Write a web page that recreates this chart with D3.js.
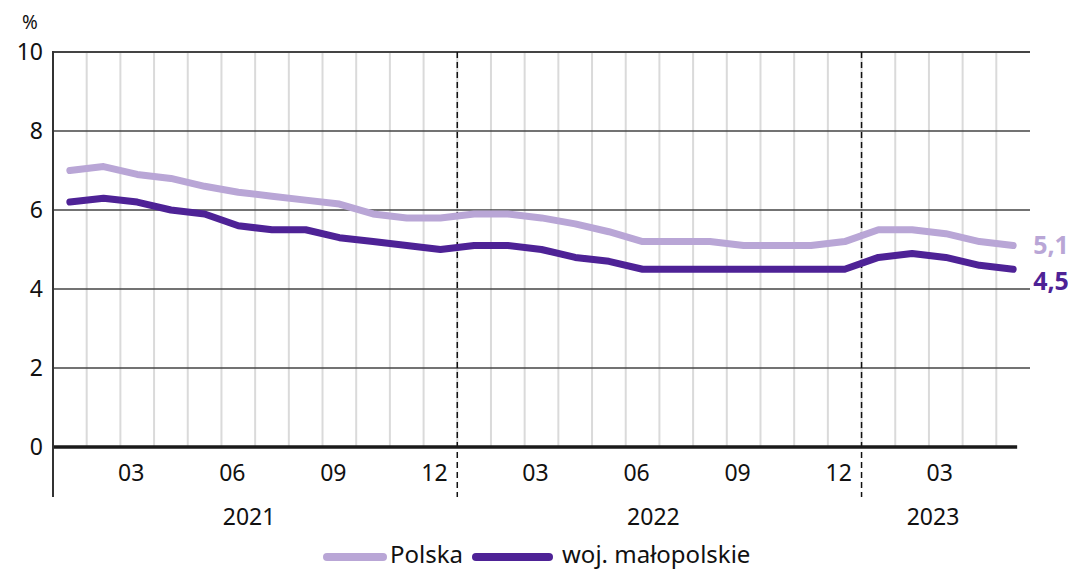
<!DOCTYPE html>
<html>
<head>
<meta charset="utf-8">
<script src="https://cdn.jsdelivr.net/npm/d3@7"></script>
<style>
  body { margin: 0; background: #fff; }
  text { font-family: "Noto Sans", sans-serif; fill: #111; }
</style>
</head>
<body>
<script>
// monthly data, 2021-01 .. 2023-05
var months = ["01","02","03","04","05","06","07","08","09","10","11","12",
              "01","02","03","04","05","06","07","08","09","10","11","12",
              "01","02","03","04","05"]
var polska = [7.0, 7.1, 6.9, 6.8, 6.6, 6.45, 6.35, 6.25, 6.15, 5.9, 5.8, 5.8,
              5.9, 5.9, 5.8, 5.65, 5.45, 5.2, 5.2, 5.2, 5.1, 5.1, 5.1, 5.2,
              5.5, 5.5, 5.4, 5.2, 5.1]
var malopolska = [6.2, 6.3, 6.2, 6.0, 5.9, 5.6, 5.5, 5.5, 5.3, 5.2, 5.1, 5.0,
                  5.1, 5.1, 5.0, 4.8, 4.7, 4.5, 4.5, 4.5, 4.5, 4.5, 4.5, 4.5,
                  4.8, 4.9, 4.8, 4.6, 4.5]
var years = ["2021", "2022", "2023"]
var yearCenters = [6, 18, 26.3]      // position on the month scale
var yearBreaks = [12, 24]
var yTicks = [0, 2, 4, 6, 8, 10]
var seriesNames = ["Polska", "woj. małopolskie"]
var seriesColors = ["#b9a6d6", "#4e2296"]

var w = 1068
var h = 569

var svg = d3.select("body")
            .append("svg")
            .attr("width", w)
            .attr("height", h)

var xScale = d3.scaleLinear()
               .domain([0, months.length])
               .range([53, 1030])
var yScale = d3.scaleLinear()
               .domain([0, 10])
               .range([447, 52])

// vertical light grid (month borders)
svg.selectAll("line.vgrid")
   .data(d3.range(1, months.length))
   .enter()
   .append("line")
   .attr("class", "vgrid")
   .attr("x1", function(d){ return xScale(d) })
   .attr("x2", function(d){ return xScale(d) })
   .attr("y1", yScale(10))
   .attr("y2", yScale(0))
   .attr("stroke", "#dadada")
   .attr("stroke-width", 2)

// horizontal grid
svg.selectAll("line.hgrid")
   .data(yTicks.filter(function(d){ return d > 0 }))
   .enter()
   .append("line")
   .attr("class", "hgrid")
   .attr("x1", xScale(0))
   .attr("x2", xScale(months.length))
   .attr("y1", function(d){ return yScale(d) })
   .attr("y2", function(d){ return yScale(d) })
   .attr("stroke", "#444")
   .attr("stroke-width", function(d){ return d === 10 ? 2 : 1.3 })

// year separators
svg.selectAll("line.ysep")
   .data(yearBreaks)
   .enter()
   .append("line")
   .attr("x1", function(d){ return xScale(d) })
   .attr("x2", function(d){ return xScale(d) })
   .attr("y1", yScale(10))
   .attr("y2", 497)
   .attr("stroke", "#111")
   .attr("stroke-width", 1.5)
   .attr("stroke-dasharray", "6,4")

// zero line
svg.append("line")
   .attr("x1", xScale(0))
   .attr("x2", xScale(months.length - 0.5) + 4)
   .attr("y1", yScale(0))
   .attr("y2", yScale(0))
   .attr("stroke", "#1a1a1a")
   .attr("stroke-width", 3.5)

// left axis line
svg.append("line")
   .attr("x1", xScale(0))
   .attr("x2", xScale(0))
   .attr("y1", yScale(10) - 1)
   .attr("y2", 497)
   .attr("stroke", "#333")
   .attr("stroke-width", 2)

// y labels
svg.selectAll("text.ylab")
   .data(yTicks)
   .enter()
   .append("text")
   .attr("x", 43)
   .attr("y", function(d){ return yScale(d) })
   .attr("dy", "0.35em")
   .attr("text-anchor", "end")
   .attr("font-size", 23)
   .text(function(d){ return d })

svg.append("text")
   .attr("x", 30)
   .attr("y", 22)
   .attr("dy", "0.35em")
   .attr("text-anchor", "middle")
   .attr("font-size", 19)
   .text("%")

// month labels (every 3rd month)
svg.selectAll("text.mlab")
   .data(months.map(function(m, i){ return {m: m, i: i} })
               .filter(function(d){ return (d.i + 1) % 3 === 0 }))
   .enter()
   .append("text")
   .attr("x", function(d){ return xScale(d.i + 0.5) - 6 })
   .attr("y", 473)
   .attr("dy", "0.35em")
   .attr("text-anchor", "middle")
   .attr("font-size", 23)
   .text(function(d){ return d.m })

// year labels
svg.selectAll("text.yrlab")
   .data(years)
   .enter()
   .append("text")
   .attr("x", function(d, i){ return xScale(yearCenters[i]) - 6 })
   .attr("y", 517)
   .attr("dy", "0.35em")
   .attr("text-anchor", "middle")
   .attr("font-size", 23)
   .text(function(d){ return d })

// lines
var line = d3.line()
             .x(function(d, i){ return xScale(i + 0.5) })
             .y(function(d){ return yScale(d) })

var allSeries = [polska, malopolska]
allSeries.forEach(function(s, k){
    svg.append("path")
       .datum(s)
       .attr("d", line)
       .attr("fill", "none")
       .attr("stroke", seriesColors[k])
       .attr("stroke-width", 7)
       .attr("stroke-linecap", "round")
       .attr("stroke-linejoin", "round")
})

// end labels
var endOffsets = [0, 12]
allSeries.forEach(function(s, k){
    var last = s[s.length - 1]
    svg.append("text")
       .attr("x", xScale(s.length - 0.5) + 20)
       .attr("y", yScale(last) + endOffsets[k])
       .attr("dy", "0.35em")
       .attr("font-size", 25)
       .attr("font-weight", "bold")
       .style("fill", seriesColors[k])
       .text(String(last).replace(".", ","))
})

// legend
var legendX = [327, 476]
var legendW = [56, 73]
var legendGap = [7, 13]
seriesNames.forEach(function(n, k){
    svg.append("line")
       .attr("x1", legendX[k])
       .attr("x2", legendX[k] + legendW[k])
       .attr("y1", 557)
       .attr("y2", 557)
       .attr("stroke", seriesColors[k])
       .attr("stroke-width", 8)
       .attr("stroke-linecap", "round")
    svg.append("text")
       .attr("x", legendX[k] + legendW[k] + legendGap[k])
       .attr("y", 555)
       .attr("dy", "0.35em")
       .attr("font-size", 24)
       .text(n)
})
</script>
</body>
</html>
